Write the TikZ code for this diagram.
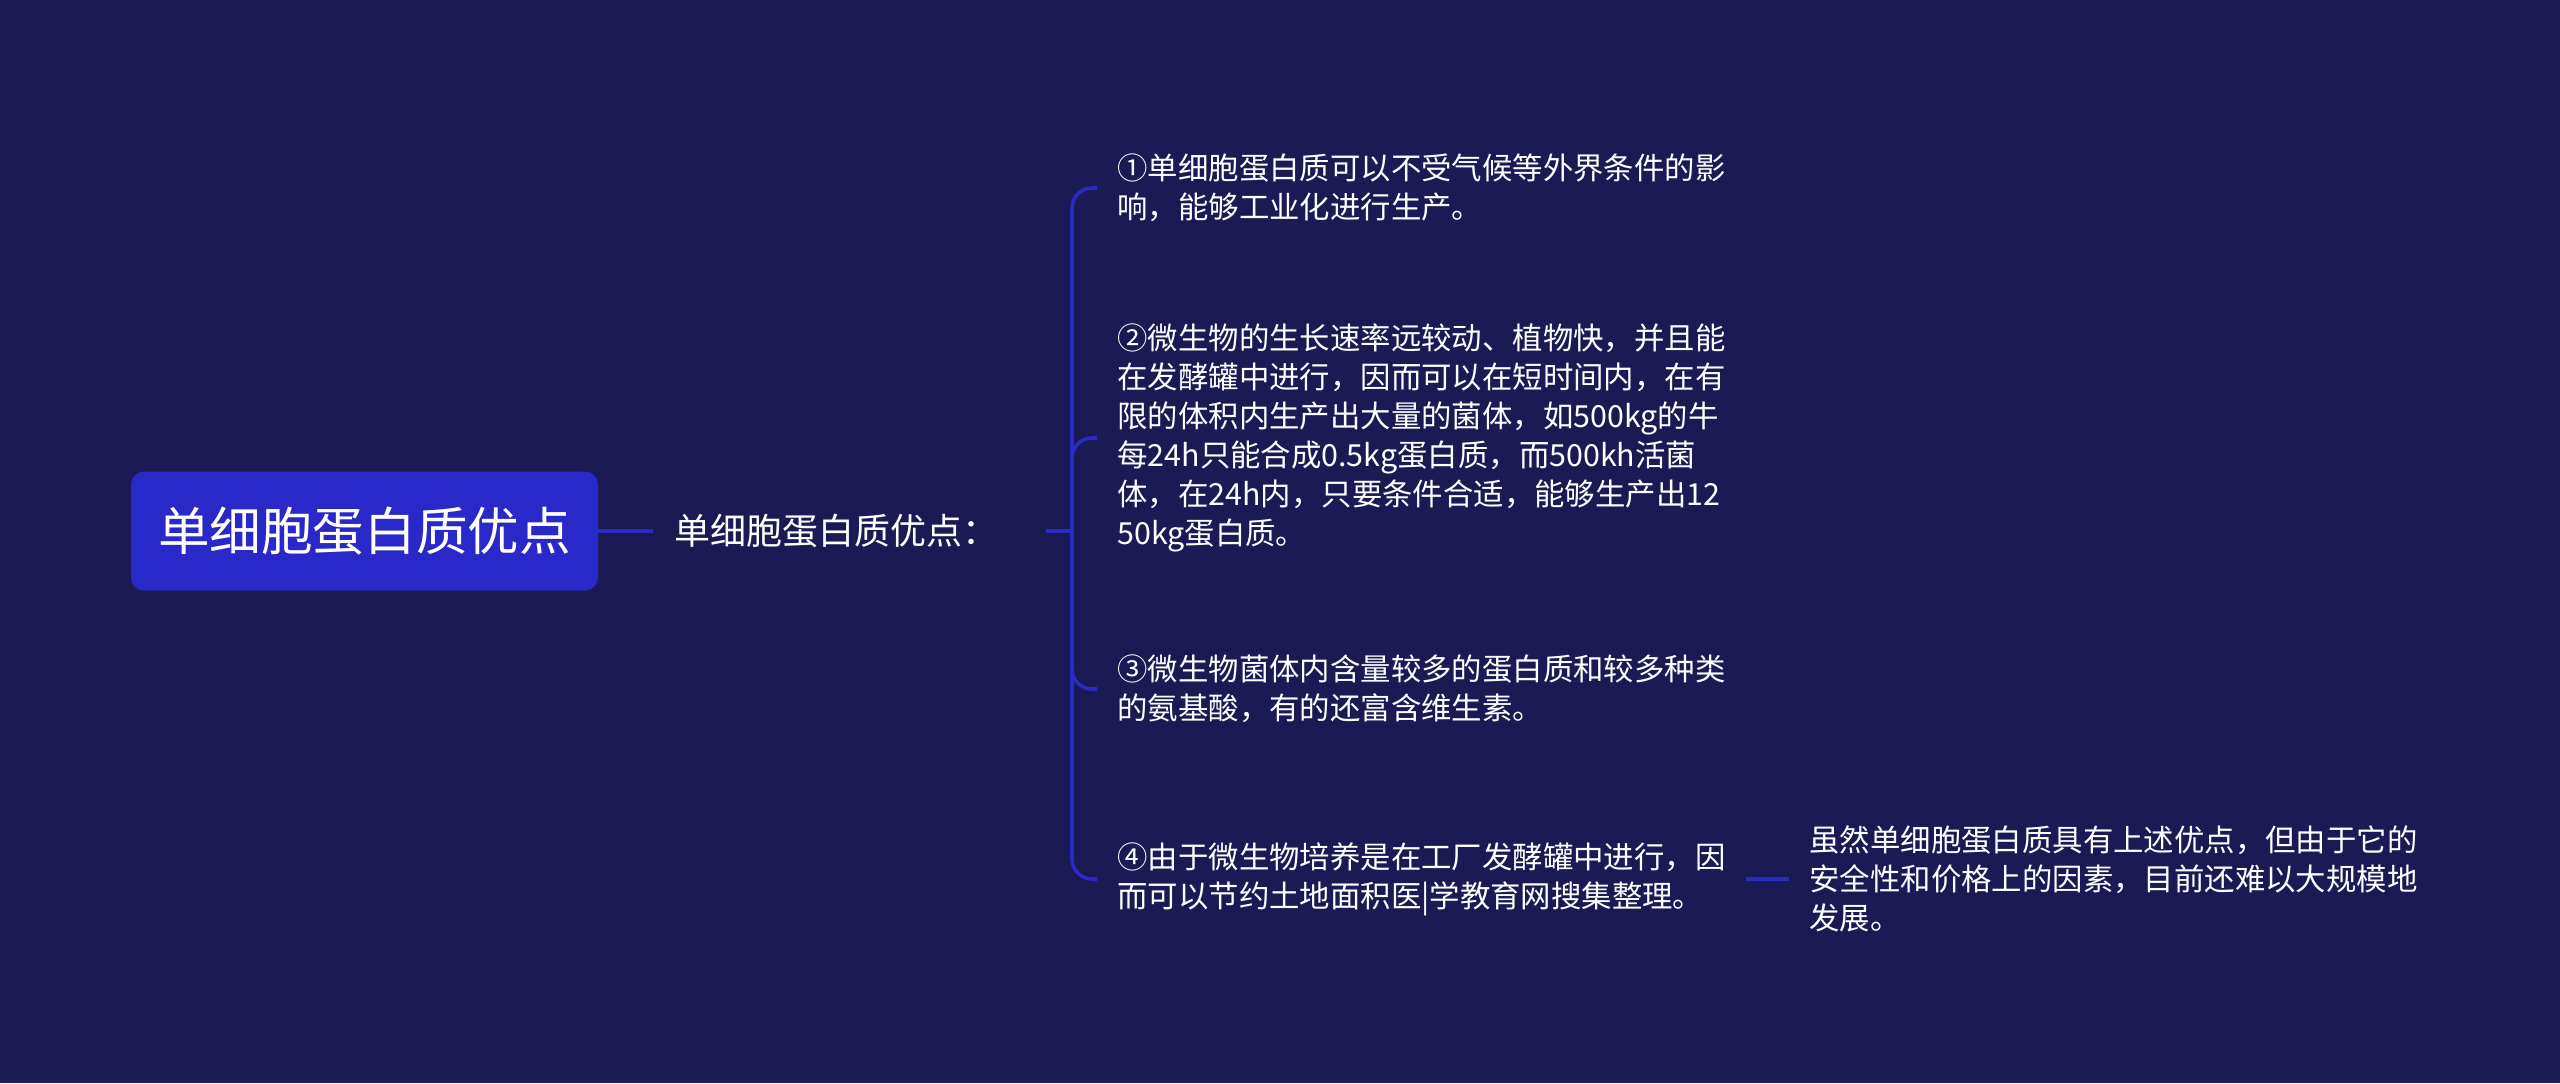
\documentclass[tikz,border=0pt]{standalone}
\usepackage{fontspec}
\setmainfont{Noto Sans CJK SC}
\usetikzlibrary{positioning}
\definecolor{bgcol}{RGB}{27,26,84}
\definecolor{rootblue}{RGB}{41,40,200}
\definecolor{linkblue}{RGB}{43,42,196}

\begin{document}
\begin{tikzpicture}[
    x = 0.5pt, y = -0.5pt,
    every node/.style = {text = white, inner sep = 0pt},
      root/.style = {fill = rootblue, rounded corners = 6.5pt, minimum width = 233.5pt,
                     minimum height = 59.5pt, font = \fontsize{25.8}{30}\selectfont},
      sub/.style = {anchor = west, inner xsep = 10.5pt, font = \fontsize{18}{22}\selectfont},
      leaf/.style = {anchor = west, align = left, inner xsep = 10pt,
                     font = \fontsize{15.2}{19.5}\selectfont},
      link/.style = {draw = linkblue, line width = 1.8pt, rounded corners = 10pt}
    ]
    \fill[bgcol] (0,0) rectangle (2560,1083);
    \node[root] (root) at (364.5,531) {单细胞蛋白质优点};
    \node[sub] (sub) at (653,531) {单细胞蛋白质优点：};
    \coordinate (fork) at (1072,531);
    \node[leaf] (p1) at (1097,188) {①单细胞蛋白质可以不受气候等外界条件的影\\响，能够工业化进行生产。};
    \node[leaf] (p2) at (1097,438) {②微生物的生长速率远较动、植物快，并且能\\在发酵罐中进行，因而可以在短时间内，在有\\限的体积内生产出大量的菌体，如500kg的牛\\每24h只能合成0.5kg蛋白质，而500kh活菌\\体，在24h内，只要条件合适，能够生产出12\\50kg蛋白质。};
    \node[leaf] (p3) at (1097,689) {③微生物菌体内含量较多的蛋白质和较多种类\\的氨基酸，有的还富含维生素。};
    \node[leaf] (p4) at (1097,879) {④由于微生物培养是在工厂发酵罐中进行，因\\而可以节约土地面积医|学教育网搜集整理。};
    \node[leaf] (p5) at (1789,879) {虽然单细胞蛋白质具有上述优点，但由于它的\\安全性和价格上的因素，目前还难以大规模地\\发展。};
    \draw[link] (root) -- (sub);
    \draw[link] ([xshift=13pt]sub.east) -- (fork);
    \foreach \n in {p1,p2,p3,p4}
        \draw[link] (fork) |- (\n.west);
    \draw[link] (p4) -- (p5);
\end{tikzpicture}
\end{document}
